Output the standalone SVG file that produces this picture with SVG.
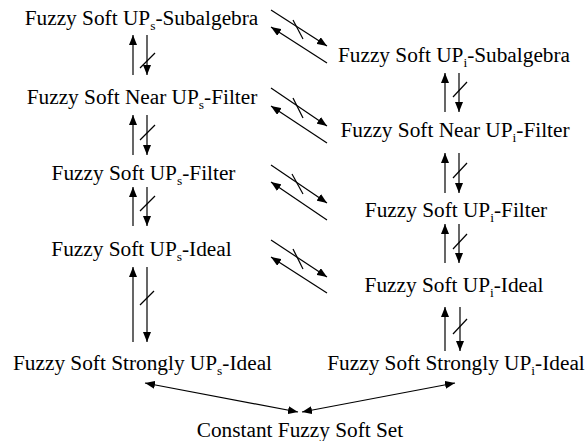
<svg xmlns="http://www.w3.org/2000/svg" width="585" height="441" viewBox="0 0 585 441">
<style>
.t{font-family:'Liberation Serif','Times New Roman',serif;font-size:21.3px;fill:#000;text-anchor:middle}
.sub{font-size:13.5px}
.c line{stroke:#000;stroke-width:1.2;fill:none}
.c .a{marker-end:url(#ah)}
.c .d{marker-start:url(#ah);marker-end:url(#ah)}
</style>
<defs>
<marker id="ah" viewBox="0 0 10 8" refX="10" refY="4" markerWidth="10" markerHeight="8" markerUnits="userSpaceOnUse" orient="auto-start-reverse">
<path d="M0,0 L10,4 L0,8 z" fill="#000"/>
</marker>
</defs>
<rect width="585" height="441" fill="#fff"/>
<g font-family="Liberation Serif, serif">
<g id="n-s-subalgebra"><text class="t" x="141.5" y="25">Fuzzy Soft UP<tspan class="sub" dy="5">s</tspan><tspan dy="-5">-Subalgebra</tspan></text></g>
<g id="n-s-nearfilter"><text class="t" x="142" y="104">Fuzzy Soft Near UP<tspan class="sub" dy="5">s</tspan><tspan dy="-5">-Filter</tspan></text></g>
<g id="n-s-filter"><text class="t" x="143.5" y="180">Fuzzy Soft UP<tspan class="sub" dy="5">s</tspan><tspan dy="-5">-Filter</tspan></text></g>
<g id="n-s-ideal"><text class="t" x="141.5" y="256">Fuzzy Soft UP<tspan class="sub" dy="5">s</tspan><tspan dy="-5">-Ideal</tspan></text></g>
<g id="n-s-strongly"><text class="t" x="142.5" y="370">Fuzzy Soft Strongly UP<tspan class="sub" dy="5">s</tspan><tspan dy="-5">-Ideal</tspan></text></g>
<g id="n-i-subalgebra"><text class="t" x="454" y="62">Fuzzy Soft UP<tspan class="sub" dy="5">i</tspan><tspan dy="-5">-Subalgebra</tspan></text></g>
<g id="n-i-nearfilter"><text class="t" x="455" y="137">Fuzzy Soft Near UP<tspan class="sub" dy="5">i</tspan><tspan dy="-5">-Filter</tspan></text></g>
<g id="n-i-filter"><text class="t" x="456" y="217">Fuzzy Soft UP<tspan class="sub" dy="5">i</tspan><tspan dy="-5">-Filter</tspan></text></g>
<g id="n-i-ideal"><text class="t" x="454" y="292">Fuzzy Soft UP<tspan class="sub" dy="5">i</tspan><tspan dy="-5">-Ideal</tspan></text></g>
<g id="n-i-strongly"><text class="t" x="456" y="370">Fuzzy Soft Strongly UP<tspan class="sub" dy="5">i</tspan><tspan dy="-5">-Ideal</tspan></text></g>
<g id="n-constant"><text class="t" x="300" y="437">Constant Fuzzy Soft Set</text></g>
</g>
<g id="connectors" class="c">
<line class="a" x1="133" y1="75" x2="133" y2="35"/><line class="a" x1="147" y1="35" x2="147" y2="75"/><line x1="140" y1="68" x2="155" y2="53"/>
<line class="a" x1="133" y1="155" x2="133" y2="115"/><line class="a" x1="147" y1="115" x2="147" y2="155"/><line x1="140" y1="140" x2="155" y2="125"/>
<line class="a" x1="133" y1="226" x2="133" y2="187"/><line class="a" x1="147" y1="187" x2="147" y2="226"/><line x1="140" y1="211" x2="155" y2="196"/>
<line class="a" x1="133" y1="342" x2="133" y2="267"/><line class="a" x1="147" y1="267" x2="147" y2="342"/><line x1="140" y1="305" x2="154" y2="291"/>
<line class="a" x1="445" y1="112" x2="445" y2="73"/><line class="a" x1="459" y1="73" x2="459" y2="112"/><line x1="453" y1="97" x2="467" y2="82"/>
<line class="a" x1="445" y1="193" x2="445" y2="153"/><line class="a" x1="459" y1="153" x2="459" y2="193"/><line x1="453" y1="178" x2="467" y2="163"/>
<line class="a" x1="445" y1="263" x2="445" y2="224"/><line class="a" x1="459" y1="224" x2="459" y2="263"/><line x1="453" y1="249" x2="467" y2="234"/>
<line class="a" x1="445" y1="351" x2="445" y2="307"/><line class="a" x1="460" y1="307" x2="460" y2="351"/><line x1="453" y1="334" x2="467" y2="319"/>
<line class="a" x1="271" y1="10" x2="327" y2="46"/><line class="a" x1="327" y1="63" x2="271" y2="27"/><line x1="293" y1="20" x2="303" y2="39"/>
<line class="a" x1="271" y1="88" x2="327" y2="126"/><line class="a" x1="327" y1="143" x2="271" y2="106"/><line x1="293" y1="98" x2="303" y2="118"/>
<line class="a" x1="271" y1="165" x2="327" y2="203"/><line class="a" x1="327" y1="220" x2="271" y2="182"/><line x1="292" y1="174" x2="303" y2="194"/>
<line class="a" x1="271" y1="240" x2="327" y2="277"/><line class="a" x1="327" y1="293" x2="271" y2="257"/><line x1="293" y1="249" x2="303" y2="269"/>
<line class="d" x1="145" y1="383" x2="298" y2="412"/>
<line class="d" x1="455" y1="383" x2="302" y2="412"/>
</g>
</svg>
